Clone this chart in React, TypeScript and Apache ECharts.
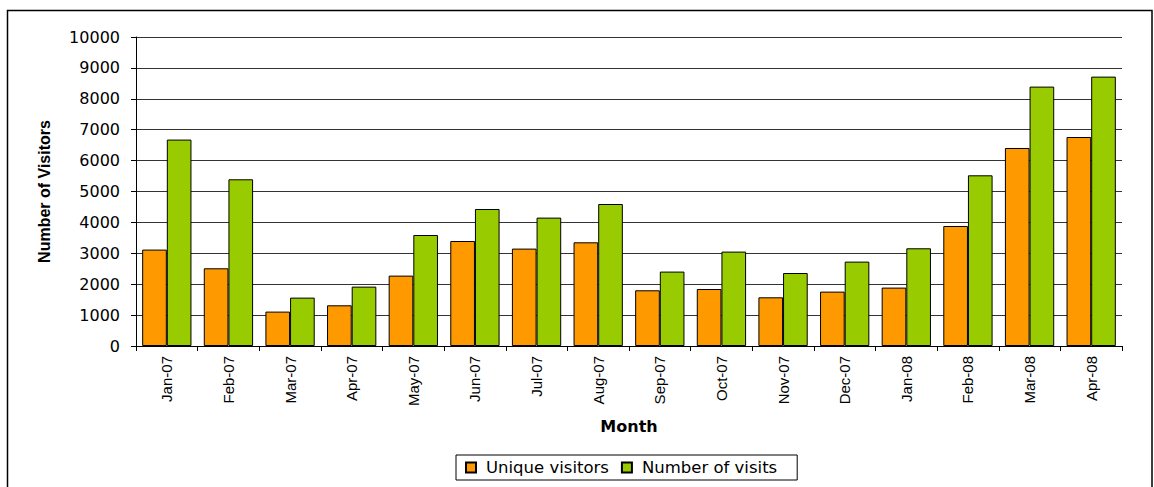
import React, { useEffect, useRef } from "react";
import * as echarts from "echarts";

const months = ["Jan-07","Feb-07","Mar-07","Apr-07","May-07","Jun-07","Jul-07","Aug-07","Sep-07","Oct-07","Nov-07","Dec-07","Jan-08","Feb-08","Mar-08","Apr-08"];
const uniqueVisitors = [3120, 2515, 1113, 1317, 2278, 3398, 3152, 3356, 1803, 1845, 1576, 1760, 1890, 3883, 6408, 6764];
const numberOfVisits = [6680, 5395, 1566, 1922, 3592, 4434, 4155, 4595, 2408, 3055, 2362, 2731, 3162, 5524, 8395, 8718];
const yTicks = { min: 0, max: 10000, interval: 1000 };

export default function App() {
  const ref = useRef<HTMLDivElement>(null);
  useEffect(() => {
    if (!ref.current) return;
    const chart = echarts.init(ref.current, undefined, { renderer: "svg" });
    chart.setOption({
      animation: false,
      backgroundColor: "#fff",
      graphic: [
        {
          type: "rect",
          shape: { x: 7.5, y: 10.5, width: 1144.5, height: 500 },
          style: { fill: "none", stroke: "#000", lineWidth: 1.5 },
          z: 100,
        },
      ],
      grid: { left: 136, top: 37, width: 986, height: 309, containLabel: false },
      legend: {
        left: 456,
        top: 455,
        padding: [4, 20, 4, 9],
        itemWidth: 10,
        itemHeight: 10,
        itemGap: 12,
        borderColor: "#000",
        borderWidth: 1,
        icon: "rect",
        textStyle: { fontFamily: "DejaVu Sans", fontSize: 16.5, color: "#000", padding: [0, 0, 0, 5] },
        data: ["Unique visitors", "Number of visits"],
      },
      xAxis: {
        type: "category",
        data: months,
        boundaryGap: true,
        name: "Month",
        nameLocation: "middle",
        nameGap: 72,
        nameTextStyle: { fontFamily: "DejaVu Sans", fontWeight: "bold", fontSize: 16, color: "#000" },
        axisLine: { lineStyle: { color: "#000", width: 1 } },
        axisTick: { show: true, alignWithLabel: false, interval: 0, length: 5, lineStyle: { color: "#000" } },
        axisLabel: {
          interval: 0,
          rotate: 90,
          margin: 10,
          fontFamily: "Liberation Sans",
          fontSize: 15,
          color: "#000",
        },
        splitLine: { show: false },
      },
      yAxis: {
        type: "value",
        min: yTicks.min,
        max: yTicks.max,
        interval: yTicks.interval,
        name: "Number of Visitors",
        nameLocation: "middle",
        nameGap: 84,
        nameTextStyle: { fontFamily: "Liberation Sans", fontWeight: "bold", fontSize: 16, color: "#000" },
        axisLine: { show: true, lineStyle: { color: "#000", width: 1 } },
        axisTick: { show: true, length: 5, lineStyle: { color: "#000" } },
        axisLabel: {
          margin: 16,
          fontFamily: "DejaVu Sans",
          fontSize: 16,
          color: "#000",
          formatter: (v: number) => String(v),
        },
        splitLine: { show: true, lineStyle: { color: "#333", width: 1 } },
      },
      series: [
        {
          name: "Unique visitors",
          type: "bar",
          data: uniqueVisitors,
          barGap: "0%",
          barCategoryGap: "20%",
          itemStyle: { color: "#FF9900", borderColor: "#000", borderWidth: 1 },
        },
        {
          name: "Number of visits",
          type: "bar",
          data: numberOfVisits,
          barGap: "0%",
          barCategoryGap: "20%",
          itemStyle: { color: "#99CC00", borderColor: "#000", borderWidth: 1 },
        },
      ],
    });
    return () => chart.dispose();
  }, []);
  return (
    <div
      ref={ref}
      style={{ position: "fixed", left: 0, top: 0, width: 1154, height: 487 }}
    />
  );
}
